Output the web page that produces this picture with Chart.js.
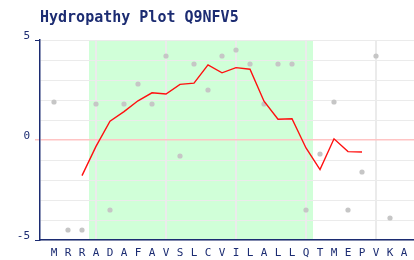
<!DOCTYPE html>
<html>
<head>
<meta charset="utf-8">
<script src="https://cdn.jsdelivr.net/npm/chart.js@4"></script>
<style>
html,body{margin:0;padding:0;background:#fff;}
#wrap{width:414px;height:260px;position:relative;}
</style>
</head>
<body>
<div id="wrap"><canvas id="c" width="414" height="260"></canvas></div>
<script>
// ---- data ----
const titleText = 'Hydropathy Plot Q9NFV5';
const residues = ['M','R','R','A','D','A','F','A','V','S','L','C','V','I','L','A','L','L','Q','T','M','E','P','V','K','A'];
const hydropathy = [1.9,-4.5,-4.5,1.8,-3.5,1.8,2.8,1.8,4.2,-0.8,3.8,2.5,4.2,4.5,3.8,1.8,3.8,3.8,-3.5,-0.7,1.9,-3.5,-1.6,4.2,-3.9];
const avgStart = 2;
const averageValues = [-1.78,-0.32,0.94,1.42,1.96,2.36,2.30,2.78,2.84,3.76,3.36,3.62,3.54,1.94,1.04,1.06,-0.40,-1.48,0.06,-0.58,-0.60];
const bandStart = 2.5, bandEnd = 18.5;
const yTickLabels = [5, 0, -5];
const xGridAt = [3, 8, 13, 18, 23];

// ---- styles ----
const NAVY = '#1c2c72';
const PINK = '#ffc4c4';
const GRID = '#ebebeb';

const pointData = hydropathy.map((v, i) => ({x: i, y: v}));
const lineData = averageValues.map((v, i) => ({x: avgStart + i, y: v}));

const bandPlugin = {
  id: 'band',
  beforeDraw(chart) {
    const {ctx, chartArea, scales} = chart;
    const x0 = scales.x.getPixelForValue(bandStart);
    const x1 = scales.x.getPixelForValue(bandEnd);
    ctx.save();
    ctx.fillStyle = 'rgb(208,255,216)';
    ctx.fillRect(x0, chartArea.top, x1 - x0, chartArea.bottom - chartArea.top);
    ctx.restore();
  }
};

new Chart(document.getElementById('c'), {
  type: 'scatter',
  data: {
    datasets: [
      {
        data: lineData,
        showLine: true,
        borderColor: '#ff1010',
        borderWidth: 1.4,
        pointRadius: 0,
        tension: 0,
        fill: false,
        order: 0
      },
      {
        data: pointData,
        showLine: false,
        pointStyle: 'circle',
        pointRadius: 2.6,
        pointBackgroundColor: '#c6c6c6',
        pointBorderWidth: 0,
        order: 1
      }
    ]
  },
  options: {
    responsive: false,
    animation: false,
    devicePixelRatio: 1,
    layout: {autoPadding: false, padding: {left: 0, right: 0, top: 0, bottom: 0}},
    plugins: {
      legend: {display: false},
      tooltip: {enabled: false},
      title: {
        display: true,
        text: titleText,
        align: 'start',
        fullSize: false,
        color: NAVY,
        font: {family: 'DejaVu Sans Mono', size: 15, weight: 'bold'},
        padding: {top: 9, bottom: 13}
      }
    },
    scales: {
      x: {
        type: 'linear',
        min: -1,
        max: 25.714,
        afterBuildTicks(scale) {
          scale.ticks = residues.map((r, i) => ({value: i}));
        },
        afterFit(scale) {
          scale.height = 20;
          scale.paddingLeft = 0;
          scale.paddingRight = 0;
        },
        ticks: {
          autoSkip: false,
          maxRotation: 0,
          padding: 7,
          color: NAVY,
          font: {family: 'DejaVu Sans Mono', size: 11},
          callback: (v) => residues[v] !== undefined ? residues[v] : ''
        },
        grid: {
          drawTicks: false,
          color: (ctx) => (ctx.tick && xGridAt.includes(ctx.tick.value)) ? GRID : 'rgba(0,0,0,0)',
          lineWidth: 2
        },
        border: {color: NAVY, width: 1.5}
      },
      y: {
        min: -5,
        max: 5,
        afterFit(scale) {
          scale.width = 40;
          scale.paddingTop = 0;
          scale.paddingBottom = 0;
        },
        ticks: {
          stepSize: 1,
          padding: 5,
          labelOffset: -4,
          color: NAVY,
          font: {family: 'DejaVu Sans Mono', size: 11},
          callback: (v) => yTickLabels.includes(v) ? String(v) : ''
        },
        grid: {
          tickLength: 5,
          color: (ctx) => (ctx.tick && ctx.tick.value === 0) ? PINK : GRID,
          lineWidth: (ctx) => (ctx.tick && ctx.tick.value === 0) ? 1.5 : 1,
          tickColor: (ctx) => {
            const v = ctx.tick ? ctx.tick.value : null;
            if (v === 5 || v === -5) return NAVY;
            if (v === 0) return PINK;
            return 'rgba(0,0,0,0)';
          }
        },
        border: {color: NAVY, width: 1.5}
      }
    }
  },
  plugins: [bandPlugin]
});
</script>
</body>
</html>
